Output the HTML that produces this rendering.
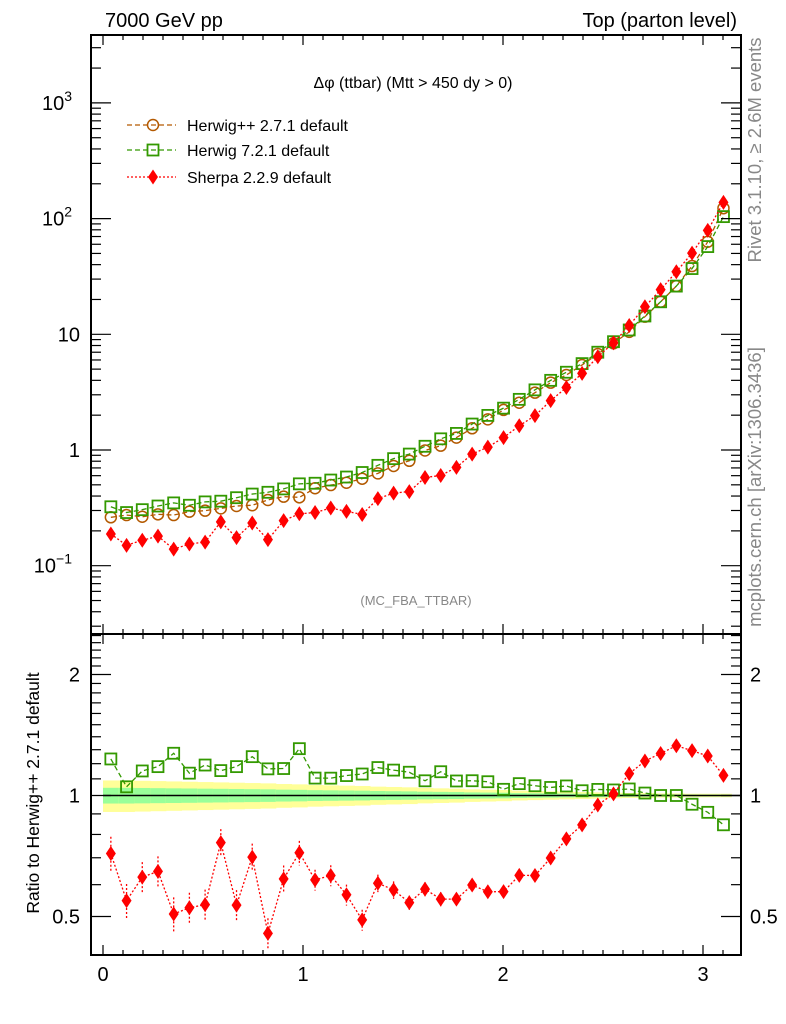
<!DOCTYPE html>
<html><head><meta charset="utf-8"><style>
html,body{margin:0;padding:0;background:#fff;}
svg{display:block;font-family:"Liberation Sans",Arial,sans-serif;}
</style></head><body>
<svg id="chart" width="786" height="1024" viewBox="0 0 786 1024" xmlns="http://www.w3.org/2000/svg">
<text x="105" y="27" font-size="20">7000 GeV pp</text>
<text x="737" y="27" font-size="20" text-anchor="end">Top (parton level)</text>
<text x="413" y="88" font-size="16" text-anchor="middle">Δφ (ttbar) (Mtt &gt; 450 dy &gt; 0)</text>
<text x="416" y="605" font-size="13" fill="#888" text-anchor="middle">(MC_FBA_TTBAR)</text>
<text transform="translate(761,150) rotate(-90)" font-size="18.5" fill="#888" text-anchor="middle">Rivet 3.1.10, ≥ 2.6M events</text>
<text transform="translate(761,487) rotate(-90)" font-size="18.5" fill="#888" text-anchor="middle">mcplots.cern.ch [arXiv:1306.3436]</text>
<text transform="translate(39,793) rotate(-90)" font-size="17.5" text-anchor="middle">Ratio to Herwig++ 2.7.1 default</text>
<g id="legend"></g>
<g id="bands"></g>
<g id="marks"></g>
<g id="axes"></g>
</svg>
<script>
const herwigpp = [0.262,0.274,0.265,0.278,0.274,0.293,0.299,0.313,0.328,0.333,0.370,0.395,0.390,0.467,0.498,0.521,0.565,0.628,0.728,0.807,0.99,1.09,1.28,1.54,1.84,2.22,2.56,3.13,3.82,4.45,5.43,6.76,8.36,10.5,14.2,19.1,26.1,38.9,63.1,123];
const herwig7 = [0.323,0.288,0.305,0.328,0.349,0.333,0.356,0.361,0.387,0.416,0.431,0.461,0.510,0.516,0.550,0.584,0.639,0.737,0.842,0.922,1.077,1.249,1.391,1.676,1.991,2.30,2.74,3.31,4.00,4.70,5.58,7.00,8.63,10.9,14.4,19.1,26.1,37.0,57.3,104];
const sherpa = [0.188,0.150,0.166,0.180,0.139,0.154,0.160,0.239,0.175,0.234,0.168,0.245,0.281,0.288,0.315,0.295,0.277,0.380,0.424,0.437,0.579,0.602,0.707,0.922,1.06,1.28,1.62,1.98,2.67,3.47,4.59,6.40,8.44,11.9,17.3,24.3,34.7,50.3,79.1,138];
const sherpaRelErr = [0.1,0.1,0.09,0.09,0.1,0.09,0.09,0.08,0.09,0.08,0.09,0.08,0.07,0.06,0.06,0.06,0.06,0.05,0.05,0.04,0.04,0.04,0.03,0.03,0.03,0.025,0.025,0.02,0.02,0.02,0.015,0.015,0.015,0.012,0.012,0.01,0.01,0.01,0.01,0.01];
const hppRelErr = [0.045,0.045,0.044,0.043,0.042,0.041,0.040,0.039,0.038,0.037,0.036,0.034,0.033,0.031,0.030,0.029,0.028,0.026,0.025,0.024,0.022,0.021,0.020,0.018,0.017,0.016,0.014,0.013,0.012,0.011,0.010,0.009,0.008,0.007,0.007,0.006,0.006,0.005,0.005,0.005];
const xTickLabels = ["0","1","2","3"];
const mainTickLabels = [{e:-1,t:"10",s:"−1"},{e:0,t:"1",s:""},{e:1,t:"10",s:""},{e:2,t:"10",s:"2"},{e:3,t:"10",s:"3"}];
const ratioTickLabels = ["0.5","1","2"];

const NS="http://www.w3.org/2000/svg";
const L=91,R=741,T=35,MID=634,B=955;
const nb=herwigpp.length, xmax=Math.PI, binW=xmax/nb;
function X(v){return 103+200*v;}
function Y(v){return 450-115.7*Math.log10(v);}
function RY(r){return 795.5-121*Math.log2(r);}
function el(tag,attrs,parent){const e=document.createElementNS(NS,tag);for(const k in attrs)e.setAttribute(k,attrs[k]);parent.appendChild(e);return e;}
const marks=document.getElementById('marks'),axes=document.getElementById('axes'),bands=document.getElementById('bands'),legend=document.getElementById('legend');

for(let i=0;i<nb;i++){
  const x0=X(i*binW),x1=X((i+1)*binW),e=hppRelErr[i];
  const y=el('rect',{x:x0,y:RY(1+2*e),width:x1-x0+0.5,height:RY(1-2*e)-RY(1+2*e),fill:'#ffff99'},bands);
  
  
  const g=el('rect',{x:x0,y:RY(1+e),width:x1-x0+0.5,height:RY(1-e)-RY(1+e),fill:'#99ff99'},bands);
  
  
}
const one=el('line',{x1:X(0),x2:R,y1:RY(1),y2:RY(1),stroke:'#000','stroke-width':1.5},bands);



function marker(type,cx,cy,color,parent){
  let m;
  if(type==='circle') m=el('circle',{cx:cx,cy:cy,r:5.5,fill:'none',stroke:color,'stroke-width':1.5},parent);
  else if(type==='square') m=el('rect',{x:cx-5.5,y:cy-5.5,width:11,height:11,fill:'none',stroke:color,'stroke-width':1.8},parent);
  else m=el('polygon',{points:`${cx},${cy-7.5} ${cx+5},${cy} ${cx},${cy+7.5} ${cx-5},${cy}`,fill:color},parent);
  return m;
}
function drawSeries(vals,ratio,type,color,dash,name,errs){
  const pts=[],rpts=[];
  for(let i=0;i<nb;i++){const xc=X((i+0.5)*binW);pts.push([xc,Y(vals[i])]);rpts.push([xc,RY(vals[i]/herwigpp[i])]);}
  const ln=el('polyline',{points:pts.map(p=>p.join(',')).join(' '),fill:'none',stroke:color,'stroke-width':1.3,'stroke-dasharray':dash},marks);
  
  
  if(ratio){
    const rl=el('polyline',{points:rpts.map(p=>p.join(',')).join(' '),fill:'none',stroke:color,'stroke-width':1.3,'stroke-dasharray':dash},marks);
    
    
  }
  for(let i=0;i<nb;i++){
    if(errs){
      const r=vals[i]/herwigpp[i];
      const eb=el('line',{x1:pts[i][0],x2:pts[i][0],y1:RY(r*(1+errs[i])),y2:RY(r*(1-errs[i])),stroke:color,'stroke-width':1.3,'stroke-dasharray':'2,2'},marks);
      
      
    }
    const m=marker(type,pts[i][0],pts[i][1],color,marks);
    
    
    if(ratio){
      const rm=marker(type,rpts[i][0],rpts[i][1],color,marks);
      
      
    }
  }
}
drawSeries(herwigpp,false,'circle','#b35900','5,3','herwigpp',null);
drawSeries(herwig7,true,'square','#339900','5,3','herwig7',null);
drawSeries(sherpa,true,'diamond','#ff0000','2,2','sherpa',sherpaRelErr);

const leg=[['circle','#b35900','5,3','Herwig++ 2.7.1 default',125],['square','#339900','5,3','Herwig 7.2.1 default',150],['diamond','#ff0000','2,2','Sherpa 2.2.9 default',177]];
leg.forEach(d=>{
  const g=el('g',{},legend);
  
  
  el('line',{x1:127,x2:176,y1:d[4],y2:d[4],stroke:d[1],'stroke-width':1.3,'stroke-dasharray':d[2]},g);
  marker(d[0],153,d[4],d[1],g);
  el('text',{x:187,y:d[4]+6,'font-size':16},g).textContent=d[3];
});

[[T,MID],[MID,B]].forEach((p,k)=>{
  const f=el('rect',{x:L,y:p[0],width:R-L,height:p[1]-p[0],fill:'none',stroke:'#000','stroke-width':2},axes);
  
  
});
for(let k=0;k<=31;k++){
  const v=k/10,x=X(v),len=(k%10===0)?10:5;
  [[T,1],[MID,-1],[MID,1],[B,-1]].forEach(a=>{el('line',{x1:x,x2:x,y1:a[0],y2:a[0]+a[1]*len,stroke:'#000','stroke-width':1.2},axes);});
}
xTickLabels.forEach((t,i)=>{const tx=el('text',{x:X(i),y:981,'font-size':20,'text-anchor':'middle'},axes);tx.textContent=t;});
for(let e=-2;e<=3;e++){for(let m=1;m<=9;m++){const v=m*Math.pow(10,e),y=Y(v);if(y<T||y>MID)continue;const len=m===1?20:10;
  el('line',{x1:L,x2:L+len,y1:y,y2:y,stroke:'#000','stroke-width':1.2},axes);el('line',{x1:R,x2:R-len,y1:y,y2:y,stroke:'#000','stroke-width':1.2},axes);}}
mainTickLabels.forEach(d=>{const y=Y(Math.pow(10,d.e));const tx=el('text',{x:d.s?72:80,y:y+7,'font-size':20,'text-anchor':'end'},axes);tx.textContent=d.t;
  if(d.s){const s=el('tspan',{dy:-9,'font-size':14},tx);s.textContent=d.s;}
  });
for(let k=4;k<=25;k++){const v=k/10,y=RY(v);if(y<MID||y>B)continue;const len=(k===5||k===10||k===20)?20:10;
  el('line',{x1:L,x2:L+len,y1:y,y2:y,stroke:'#000','stroke-width':1.2},axes);el('line',{x1:R,x2:R-len,y1:y,y2:y,stroke:'#000','stroke-width':1.2},axes);}
ratioTickLabels.forEach(t=>{const y=RY(parseFloat(t));
  const a=el('text',{x:80,y:y+7,'font-size':20,'text-anchor':'end'},axes);a.textContent=t;
  const b=el('text',{x:750,y:y+7,'font-size':20},axes);b.textContent=t;});
</script>
</body></html>
